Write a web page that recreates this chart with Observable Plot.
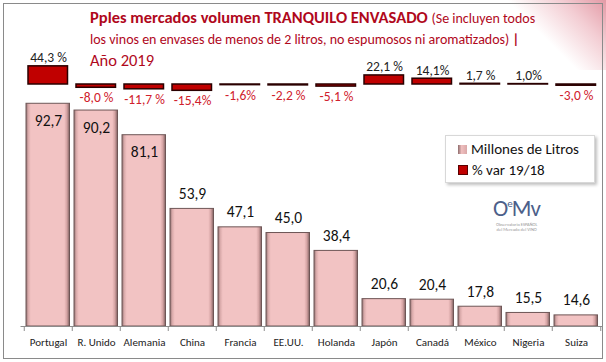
<!DOCTYPE html>
<html><head><meta charset="utf-8">
<script src="https://cdn.jsdelivr.net/npm/d3@7"></script>
<script src="https://cdn.jsdelivr.net/npm/@observablehq/plot@0.6"></script>
<style>
body{margin:0;background:#fff;font-family:Carlito,Lato,sans-serif;}
#wrap{position:relative;width:606px;height:362px;overflow:hidden;background:#fff;}
#wrap svg{position:absolute;left:0;top:0;overflow:visible;}
.frame{position:absolute;left:3px;top:3px;width:598px;height:354px;border:1px solid #8a8a8a;}
.corner{position:absolute;right:0;top:0;width:110px;height:70px;background:linear-gradient(225deg,#e39aa6 0%,#f3cdd3 25%,rgba(255,255,255,0) 55%);}
.t{position:absolute;color:#b0081c;white-space:nowrap;}
.legend{position:absolute;left:445px;top:135px;width:148px;height:46px;background:#fff;border:1px solid #d8d8d8;box-shadow:2px 2px 3px rgba(0,0,0,0.25);font-size:15px;color:#111;}
.legend div{position:absolute;left:12px;white-space:nowrap;}
.sw{display:inline-block;width:9px;height:9px;margin-right:4px;vertical-align:0px;}
.logo{position:absolute;left:493px;top:194px;color:#4d5f8a;font-size:23px;line-height:20px;letter-spacing:-1px;white-space:nowrap;}
.logo span{font-size:11px;vertical-align:9px;}
.logosub{position:absolute;left:496px;top:222px;font-size:4.5px;line-height:5px;color:#9a9a9a;white-space:nowrap;text-align:center;}
</style></head>
<body>
<div id="wrap">
<div class="corner"></div>
<div class="frame"></div>
<div class="t" style="left:90px;top:7px;font-size:16.5px;font-weight:bold;">Pples mercados volumen TRANQUILO ENVASADO <span style="font-weight:normal;font-size:14px;">(Se incluyen todos</span></div>
<div class="t" style="left:90px;top:31px;font-size:14px;">los vinos en envases de menos de 2 litros, no espumosos ni aromatizados) <b>|</b></div>
<div class="t" style="left:90px;top:50px;font-size:16.5px;">Año 2019</div>
<div class="legend">
<div style="top:4px;"><span class="sw" style="background:linear-gradient(90deg,#8e6d6d,#f0bfbf 40%,#d9a8a8);"></span>Millones de Litros</div>
<div style="top:25px;"><span class="sw" style="background:#c00000;border:1px solid #5a0000;width:8px;height:8px;"></span>% var 19/18</div>
</div>
<div class="logo">O<span>e</span>Mv</div>
<div class="logosub">Observatorio ESPAÑOL<br>del Mercado del VINO</div>
</div>
<script>
const countries = ["Portugal","R. Unido","Alemania","China","Francia","EE.UU.","Holanda","Japón","Canadá","México","Nigeria","Suiza"];
const volumes = [92.7,90.2,81.1,53.9,47.1,45.0,38.4,20.6,20.4,17.8,15.5,14.6];
const volumeLabels = ["92,7","90,2","81,1","53,9","47,1","45,0","38,4","20,6","20,4","17,8","15,5","14,6"];
const variations = [44.3,-8.0,-11.7,-15.4,-1.6,-2.2,-5.1,22.1,14.1,1.7,1.0,-3.0];
const variationLabels = ["44,3 %","-8,0 %","-11,7 %","-15,4%","-1,6%","-2,2 %","-5,1 %","22,1 %","14,1%","1,7 %","1,0%","-3,0 %"];

const rows = countries.map((c,i)=>({c, v:volumes[i], vl:volumeLabels[i], p:variations[i], pl:variationLabels[i]}));
const font = "Carlito, Lato, sans-serif";
const xScale = {domain: countries, padding:0, label:null};

const main = Plot.plot({
  width:606, height:362,
  marginLeft:20.5, marginRight:3.5, marginTop:83.5, marginBottom:36,
  style:{fontFamily:font, background:"transparent", overflow:"visible"},
  x: xScale,
  y: {domain:[10.5,100], axis:null},
  marks:[
    Plot.barY(rows,{x:"c", y1:10.5, y2:"v", fill:"url(#barGrad)", stroke:"#6e5656", strokeWidth:1, insetLeft:2, insetRight:2.5}),
    Plot.ruleY([10.5],{stroke:"#8c8c8c", strokeWidth:1}),
    Plot.ruleX(countries,{x:d=>d, y1:10.5, y2:10.5, dx:-24.25, insetBottom:-5, stroke:"#8c8c8c"}),
    Plot.ruleX(countries.slice(-1),{x:d=>d, y1:10.5, y2:10.5, dx:24.25, insetBottom:-5, stroke:"#8c8c8c"}),
    Plot.text(rows.filter(d=>d.v>60),{x:"c", y:"v", text:"vl", dy:17, fontSize:15.5, fill:"#111"}),
    Plot.text(rows.filter(d=>d.v<=60),{x:"c", y:"v", text:"vl", dy:-15, fontSize:15.5, fill:"#111"}),
    Plot.axisX({tickSize:0, tickPadding:12, fontSize:11, fill:"#222", anchor:"bottom", label:null})
  ]
});
const defs = d3.select(main).insert("defs",":first-child");
const g = defs.append("linearGradient").attr("id","barGrad").attr("x1","0").attr("x2","1").attr("y1","0").attr("y2","0");
[["0%","#8f7070"],["5%","#d8a9a9"],["11%","#f2c3c3"],["88%","#f2c3c3"],["94%","#d4a3a3"],["100%","#7e5f5f"]].forEach(([o,c])=>g.append("stop").attr("offset",o).attr("stop-color",c));

const varPlot = Plot.plot({
  width:606, height:362,
  marginLeft:20.5, marginRight:3.5, marginTop:63.5, marginBottom:257.5,
  style:{fontFamily:font, background:"transparent", overflow:"visible"},
  x: {...xScale, axis:null},
  y: {domain:[-50,50], axis:null},
  marks:[
    Plot.barY(rows,{x:"c", y1:0, y2:"p", fill:"#c00000", stroke:"#2a0000", strokeWidth:1.5, insetLeft:4, insetRight:4.5}),
    Plot.text(rows.filter(d=>d.p>0),{x:"c", y:"p", text:"pl", lineAnchor:"bottom", dy:-4, fontSize:13.5, fill:"#222"}),
    Plot.text(rows.filter(d=>d.p<0),{x:"c", y:"p", text:"pl", lineAnchor:"top", dy:5, fontSize:13.5, fill:"#d0202c"})
  ]
});
const wrap = document.getElementById("wrap");
wrap.insertBefore(main, wrap.querySelector(".t"));
wrap.insertBefore(varPlot, wrap.querySelector(".t"));
</script>
</body></html>
